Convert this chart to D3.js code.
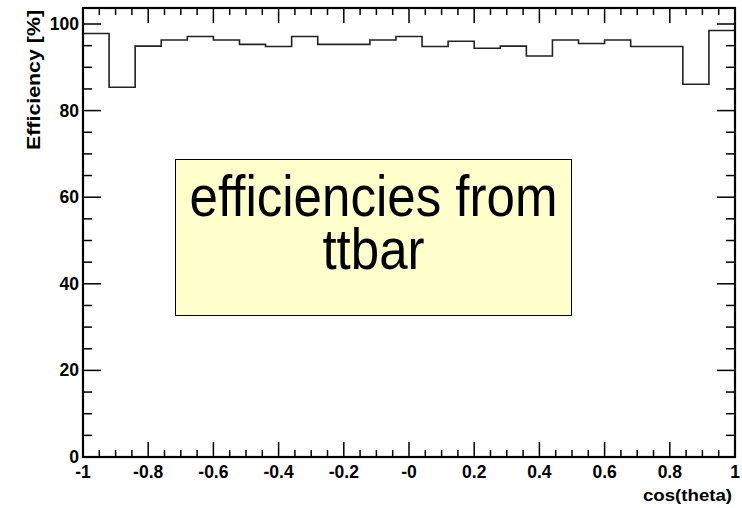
<!DOCTYPE html>
<html><head><meta charset="utf-8">
<script src="https://cdn.jsdelivr.net/npm/d3@7"></script>
<style>body{margin:0;background:#fff}svg{display:block}text{font-family:"Liberation Sans",Arial,Helvetica,sans-serif}</style>
</head><body><svg id="c" width="742" height="508"></svg>
<script>
const binEdgesStart = -1, binWidth = 0.08;
const efficiency = [97.8,85.4,94.9,96.3,97.1,96.3,95.3,94.8,97.1,95.3,95.3,96.3,97.1,94.8,96.0,94.4,94.9,92.6,96.3,95.5,96.3,94.8,94.8,86.1,98.5];
const xTicks = [-1,-0.8,-0.6,-0.4,-0.2,0,0.2,0.4,0.6,0.8,1];
const xTickLabels = ["-1","-0.8","-0.6","-0.4","-0.2","-0","0.2","0.4","0.6","0.8","1"];
const yTicks = [0,20,40,60,80,100];
const xTitle = "cos(theta)", yTitle = "Efficiency [%]";
const boxLines = ["efficiencies from","ttbar"];

const svg = d3.select("#c");
const L=83,R=735,T=8,B=457;
const x = d3.scaleLinear().domain([-1,1]).range([L,R]);
const y = d3.scaleLinear().domain([0,100]).range([B,24]);

// histogram step line
const pts=[];
efficiency.forEach((v,i)=>{const x0=binEdgesStart+i*binWidth;pts.push([x(x0),y(v)],[x(x0+binWidth),y(v)]);});
svg.append("path").attr("d",d3.line()(pts)).attr("fill","none").attr("stroke","#222").attr("stroke-width",1.6);

// ticks
const g=svg.append("g").attr("stroke","#000").attr("stroke-width",1.5);
const xMinor=d3.range(-1,1.0001,0.05);
xMinor.forEach(v=>{
  const major=Math.abs(Math.round(v*5)-v*5)<1e-6;
  const len=major?15:7;
  g.append("line").attr("x1",x(v)).attr("x2",x(v)).attr("y1",B).attr("y2",B-len);
  g.append("line").attr("x1",x(v)).attr("x2",x(v)).attr("y1",T).attr("y2",T+len);
});
d3.range(0,103.7,5).forEach(v=>{
  const major=v%20===0;
  const len=major?18:9;
  g.append("line").attr("y1",y(v)).attr("y2",y(v)).attr("x1",L).attr("x2",L+len);
  g.append("line").attr("y1",y(v)).attr("y2",y(v)).attr("x1",R).attr("x2",R-len);
});
// frame
svg.append("rect").attr("x",L).attr("y",T).attr("width",R-L).attr("height",B-T).attr("fill","none").attr("stroke","#000").attr("stroke-width",2.2);

// labels
xTicks.forEach((v,i)=>svg.append("text").attr("x",x(v)).attr("y",478).attr("text-anchor","middle")
  .attr("font-size",17.5).attr("font-weight","bold").text(xTickLabels[i]));
yTicks.forEach(v=>svg.append("text").attr("x",79).attr("y",y(v)+6).attr("text-anchor","end")
  .attr("font-size",17.5).attr("font-weight","bold").text(v));
svg.append("text").attr("x",732).attr("y",501).attr("text-anchor","end").attr("font-size",17).attr("font-weight","bold")
  .attr("textLength",89).attr("lengthAdjust","spacingAndGlyphs").text(xTitle);
svg.append("text").attr("transform","translate(40,10) rotate(-90)").attr("text-anchor","end").attr("font-size",18).attr("font-weight","bold")
  .attr("textLength",140).attr("lengthAdjust","spacingAndGlyphs").text(yTitle);

// text box
svg.append("rect").attr("x",175.5).attr("y",159.5).attr("width",396).attr("height",156).attr("fill","#ffffcc").attr("stroke","#000").attr("stroke-width",1);
const cx=373.5;
const bt=svg.append("text").attr("transform",`translate(${cx},0) scale(0.88,1)`).attr("text-anchor","middle").attr("font-size",58);
[[216.5,boxLines[0]],[269.5,boxLines[1]]].forEach(([by,t])=>{
  bt.append("tspan").attr("x",0).attr("y",by).text(t);
});
</script></body></html>
